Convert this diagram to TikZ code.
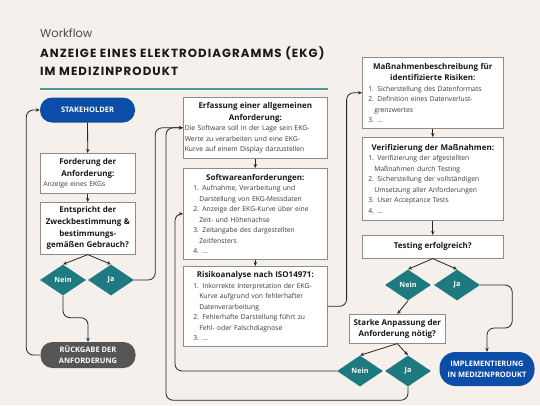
\documentclass[tikz,border=0pt]{standalone}
\usepackage{fontspec}
\setmainfont{Open Sans}
\newfontfamily\ttlfont{Poppins}
\newfontfamily\ttlfontw{Poppins}[LetterSpace=9]
\usetikzlibrary{shapes.geometric,arrows.meta}
\definecolor{bgc}{HTML}{F6F0EC}
\definecolor{diateal}{HTML}{1E7A80}
\definecolor{pillblue}{HTML}{0C4DA8}
\definecolor{pillgray}{HTML}{555555}
\definecolor{boxline}{HTML}{8C8C8C}
\definecolor{lineteal}{HTML}{4C9A9C}
\definecolor{txtc}{HTML}{3A3A3A}
\newcommand\ttl[1]{{\centering\fontsize{8}{11.6}\selectfont\bfseries\color{black!90}#1\par}}
\newcommand\bdf{\fontsize{6.8}{10.5}\selectfont}
\newcommand\ind{\hspace*{6pt}}
\tikzset{
  box/.style={draw=boxline, fill=white, line width=0.6pt, anchor=north west,
    inner xsep=3pt, inner ysep=0pt, font=\bdf, text=txtc},
  pill/.style={rounded corners=12pt, minimum width=95pt, minimum height=25pt,
    text=white, font=\fontsize{7.5}{11}\selectfont\bfseries, align=center, inner sep=0pt},
  dia/.style={diamond, fill=diateal, minimum width=46pt, minimum height=31pt,
    inner sep=0pt, text=white, font=\fontsize{7.2}{8}\selectfont\bfseries},
  arr/.style={-{Stealth[length=4pt,width=3.4pt]}, line width=0.8pt, draw=black!85, rounded corners=7pt},
  ttlline/.style={anchor=base west, inner sep=0pt, font=\ttlfontw\bfseries\fontsize{11.8}{13}\selectfont, text=black!90},
}
\begin{document}
\begin{tikzpicture}[x=1pt,y=-1pt]
\fill[bgc] (0,0) rectangle (540,405);
\useasboundingbox (0,0) rectangle (540,405);

% title
\node[anchor=base west, inner sep=0pt, font=\ttlfont\fontsize{11.5}{14}\selectfont, text=black!70] (wf) at (40,37) {Workflow};
\node[ttlline] (t1) at (40,57) {ANZEIGE EINES ELEKTRODIAGRAMMS (EKG)};
\node[ttlline] (t2) at (40,75) {IM MEDIZINPRODUKT};
\coordinate (ul1) at (40,89);
\coordinate (ul2) at (328,89);
\draw[lineteal, line width=1.1pt] (ul1) -- (ul2);

% left column
\node[pill, fill=pillblue] (stake) at (87.5,110) {STAKEHOLDER};
\node[box, minimum width=95pt, minimum height=40pt, text width=89pt] (ford) at (40,153)
  {\raggedright\ttl{Forderung der\\Anforderung:}Anzeige eines EKGs\par};
\node[box, minimum width=95pt, minimum height=52pt, text width=89pt] (ent) at (40,202)
  {\ttl{Entspricht der\\Zweckbestimmung \&\\bestimmungs-\\gemäßen Gebrauch?}};
\node[dia] (n1) at (63,280) {Nein};
\node[dia] (j1) at (111,280) {Ja};
\node[pill, fill=pillgray, minimum height=26pt] (rueck) at (88,355) {RÜCKGABE DER\\ANFORDERUNG};

% middle column
\node[box, minimum width=144pt, minimum height=61pt, text width=141pt, inner xsep=1.5pt] (erf) at (183,97)
  {\raggedright\ttl{Erfassung einer allgemeinen\\Anforderung:}Die Software soll in der Lage sein EKG-\\Werte zu verarbeiten und eine EKG-\\Kurve auf einem Display darzustellen\par};
\node[box, minimum width=144pt, minimum height=91pt, text width=138pt] (sw) at (183,168)
  {\raggedright\ttl{Softwareanforderungen:}\leftskip=7pt
  1. Aufnahme, Verarbeitung und\\\ind Darstellung von EKG-Messdaten\\2. Anzeige der EKG-Kurve über eine\\\ind Zeit- und Höhenachse\\3. Zeitangabe des dargestellten\\\ind Zeitfensters\\4. ...\par};
\node[box, minimum width=144pt, minimum height=80pt, text width=138pt] (risk) at (183,266)
  {\raggedright\ttl{Risikoanalyse nach ISO14971:}\leftskip=7pt
  1. Inkorrekte Interpretation der EKG-\\\ind Kurve aufgrund von fehlerhafter\\\ind Datenverarbeitung\\2. Fehlerhafte Darstellung führt zu\\\ind Fehl- oder Falschdiagnose\\3. ...\par};

% right column
\node[box, minimum width=141pt, minimum height=71pt, text width=135pt] (mass) at (362,57)
  {\raggedright\ttl{Maßnahmenbeschreibung für\\identifizierte Risiken:}\leftskip=3pt
  1. Sicherstellung des Datenformats\\2. Definition eines Datenverlust-\\\ind grenzwertes\\3. ...\par};
\node[box, minimum width=141pt, minimum height=83pt, text width=135pt] (verif) at (362,137)
  {\raggedright\ttl{Verifizierung der Maßnahmen:}\leftskip=3pt
  1. Verifizierung der afgestellten\\\ind Maßnahmen durch Testing\\2. Sicherstellung der vollständigen\\\ind Umsetzung aller Anforderungen\\3. User Acceptance Tests\\4. ...\par};
\node[box, minimum width=141pt, minimum height=23pt, text width=135pt] (test) at (362,235)
  {\ttl{Testing erfolgreich?}};
\node[dia] (n2) at (408,285) {Nein};
\node[dia] (j2) at (457,285) {Ja};
\node[box, minimum width=94pt, minimum height=29pt, text width=90pt] (stark) at (349,314)
  {\ttl{Starke Anpassung der\\Anforderung nötig?}};
\node[dia] (n3) at (360,371) {Nein};
\node[dia] (j3) at (408,371) {Ja};
\node[pill, fill=pillblue, minimum width=95pt, minimum height=34pt, rounded corners=16pt] (impl) at (487,369)
  {IMPLEMENTIERUNG\\IN MEDIZINPRODUKT};

% connectors
\draw[arr] (stake) -- (ford);
\draw[arr] (ford) -- (ent);
\draw[arr] (ent.south) -- (n1.north);
\draw[arr] (ent.south) -- (j1.north);
\draw[arr] (n1.south) -- ++(0,22) -| (rueck.north);
\draw[arr] (rueck.west) -- ++(-14,0) |- (stake.west);
\draw[arr] (j1.east) -- ++(21,0) |- (erf.west);
\draw[arr] (erf) -- (sw);
\draw[arr] (sw) -- (risk);
\draw[arr] (risk.east) -- ++(19,0) |- (mass.west);
\draw[arr] (mass) -- (verif);
\draw[arr] (verif) -- (test);
\draw[arr] (test.south) -- (n2.north);
\draw[arr] (test.south) -- (j2.north);
\draw[arr] (j2.east) -- ++(32,0) -- ++(0,43) -| (impl.north);
\draw[arr] (n2.south) -- (stark.north);
\draw[arr] (stark.south) -- (n3.north);
\draw[arr] (stark.south) -- (j3.north);
\draw[arr] (n3.west) -| ([xshift=-8pt]sw.west) -- (sw.west);
\draw[arr] (j3.south) -- ++(0,13.5) -| ([xshift=-17pt]erf.west) -- (erf.west);
\end{tikzpicture}
\end{document}
